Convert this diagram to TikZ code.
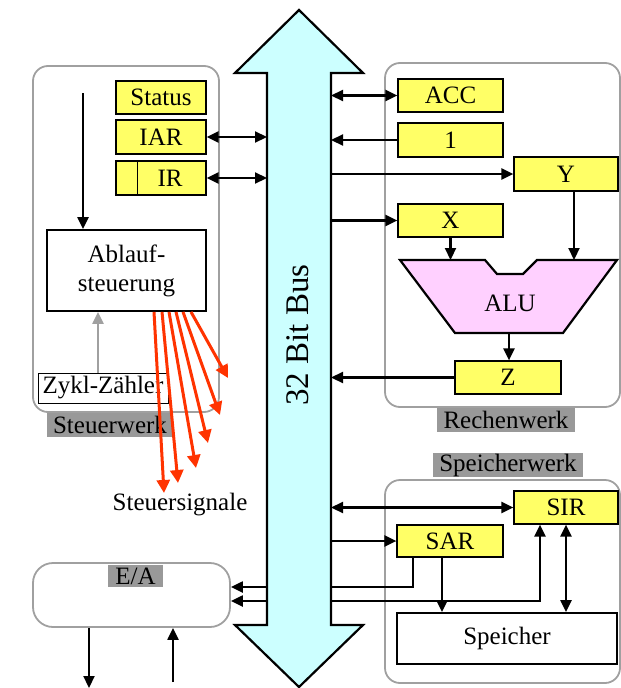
\documentclass[tikz,border=0pt]{standalone}
\usepackage{fontspec}
\setmainfont{Liberation Serif}
\usetikzlibrary{arrows.meta}
\definecolor{regyellow}{RGB}{255,255,102}
\definecolor{buscyan}{RGB}{204,255,255}
\definecolor{alupink}{RGB}{255,208,255}
\definecolor{taggray}{RGB}{153,153,153}
\definecolor{framegray}{RGB}{160,160,160}
\definecolor{sigred}{RGB}{255,51,0}
\begin{document}
\begin{tikzpicture}[x=1pt,y=-1pt,>={Triangle[length=12pt,width=11pt]},
    txt/.style={font=\fontsize{25}{29}\selectfont},
    reg/.style={txt,draw,fill=regyellow,line width=1.2pt,inner sep=0pt},
    plain/.style={txt,draw,line width=1.8pt,inner sep=0pt},
    unit/.style={draw=framegray,line width=1.8pt,rounded corners=15pt},
    tag/.style={txt,fill=taggray,inner sep=0pt},
    wire/.style={line width=2.2pt},
    sig/.style={draw=sigred,line width=3pt,-{Triangle[length=13pt,width=13pt]}}]
    \useasboundingbox (0,0) rectangle (621,688);
    % Rahmen
    \draw[unit] (33,66) rectangle (219,412);
    \draw[unit] (385,63) rectangle (620,407);
    \draw[unit] (385,480) rectangle (620,683);
    \node[unit,rounded corners=20pt,minimum width=197pt,minimum height=64pt] (ea) at (131.5,595) {};
    % Bus
    \draw[wire,fill=buscyan] (299,10) -- (363,73) -- (331,73) -- (331,625) -- (363,625)
        -- (299,687) -- (235,625) -- (267,625) -- (267,73) -- (235,73) -- cycle;
    \node[rotate=90,font=\fontsize{33}{36}\selectfont] (bustext) at (298,335) {32 Bit Bus};
    \coordinate (busL) at (267,0);
    \coordinate (busR) at (331,0);
    \coordinate (ioA) at (0,587);
    \coordinate (ioB) at (0,601);
    % Steuerwerk
    \node[reg,minimum width=90pt,minimum height=33pt] (status) at (161,97.5) {Status};
    \node[reg,minimum width=90pt,minimum height=34pt] (iar) at (161,137) {IAR};
    \node[reg,minimum width=90pt,minimum height=34pt] (ir) at (161,178) {\hspace*{18pt}IR};
    \draw[line width=1.2pt] ([xshift=22pt]ir.north west) -- ([xshift=22pt]ir.south west);
    \node[plain,align=center,minimum width=159pt,minimum height=81pt] (ablauf) at (126.5,270.5) {Ablauf-\\steuerung};
    \node[txt,draw,line width=1pt,inner sep=0pt,minimum width=130pt,minimum height=30pt] (zykl) at (103,388) {Zykl-Z\"ahler};
    \node[tag,minimum width=126pt,minimum height=24pt] (stw) at (110,425) {Steuerwerk};
    \node[txt] (signals) at (180,505) {Steuersignale};
    \coordinate (start) at (83,93);
    \draw[wire,->] (start) -- (start |- ablauf.north);
    \draw[wire,framegray,->] ([xshift=-5pt]zykl.north) -- ([xshift=-5pt]zykl.north |- ablauf.south);
    \draw[wire,<->] (iar.east) -- (iar.east -| busL);
    \draw[wire,<->] (ir.east) -- (ir.east -| busL);
    \foreach \sx/\ex/\ey in {27.5/164/493, 35.5/178/483, 42.5/196/468, 49.5/208/443, 56.5/220/415, 64.5/228/378}
        \draw[sig] ([xshift=\sx pt]ablauf.south) -- (\ex,\ey);
    % Rechenwerk
    \node[reg,minimum width=105pt,minimum height=33pt] (acc) at (450.5,95.5) {ACC};
    \node[reg,minimum width=105pt,minimum height=34pt] (one) at (450.5,140) {1};
    \node[reg,minimum width=104pt,minimum height=34pt] (y) at (566,174) {Y};
    \node[reg,minimum width=105pt,minimum height=33pt] (x) at (450.5,220.5) {X};
    \draw[line width=2.2pt,fill=alupink] (400,260) -- (485,260) -- (497,274) -- (523,274) -- (537,260)
        -- (617,260) -- (563,333) -- (455,333) -- cycle;
    \node[txt] (alu) at (510,303) {ALU};
    \coordinate (aluT) at (0,260);
    \coordinate (aluB) at (509,333);
    \node[reg,minimum width=106pt,minimum height=33pt] (z) at (508,377.5) {Z};
    \node[tag,minimum width=138pt,minimum height=24pt] (rw) at (506,420) {Rechenwerk};
    \draw[wire,<->] (acc.west) -- (acc.west -| busR);
    \draw[wire,->] (one.west) -- (one.west -| busR);
    \draw[wire,->] (busR |- y.west) -- (y.west);
    \draw[wire,->] (busR |- x.west) -- (x.west);
    \draw[wire,->] (x.south) -- (x.south |- aluT);
    \draw[wire,->] ([xshift=8pt]y.south) -- ([xshift=8pt]y.south |- aluT);
    \draw[wire,->] (aluB) -- (aluB |- z.north);
    \draw[wire,->] (z.west) -- (z.west -| busR);
    % Speicherwerk
    \node[tag,minimum width=150pt,minimum height=24pt] (spw) at (508,465) {Speicherwerk};
    \node[reg,minimum width=104pt,minimum height=33pt] (sir) at (566,507.5) {SIR};
    \node[reg,minimum width=106pt,minimum height=32pt] (sar) at (450,541) {SAR};
    \node[plain,minimum width=220pt,minimum height=51pt] (speicher) at (507,638.5) {Speicher};
    \draw[wire,<->] (sir.west) -- (sir.west -| busR);
    \draw[wire,->] (busR |- sar.west) -- (sar.west);
    \draw[wire] ([xshift=-37pt]sar.south) |- (busR |- ioA);
    \draw[wire,->] (busR |- ioB) -| ([xshift=-26pt]sir.south);
    \draw[wire,->] ([xshift=-8pt]sar.south) -- ([xshift=-8pt]sar.south |- speicher.north);
    \draw[wire,<->] (sir.south) -- (sir.south |- speicher.north);
    % E/A
    \node[tag,minimum width=55pt,minimum height=22pt] (eatag) at (135.5,576) {E/A};
    \draw[wire,->] (busL |- ioA) -- (ioA -| ea.east);
    \draw[wire,->] (busL |- ioB) -- (ioB -| ea.east);
    \coordinate (out) at (89,688);
    \coordinate (in) at (173,682);
    \draw[wire,->] (out |- ea.south) -- (out);
    \draw[wire,->] (in) -- (in |- ea.south);
\end{tikzpicture}
\end{document}
